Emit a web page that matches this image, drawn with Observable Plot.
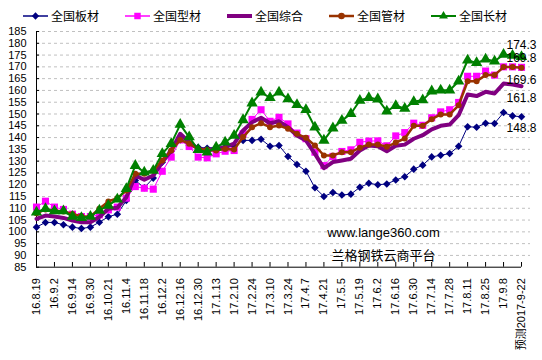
<!DOCTYPE html>
<html><head><meta charset="utf-8">
<script src="https://cdn.jsdelivr.net/npm/d3@7"></script>
<script src="https://cdn.jsdelivr.net/npm/@observablehq/plot@0.6"></script>
<style>
body{margin:0;background:#fff;}
#legend{position:relative;height:24px;width:542px;}
.item{position:absolute;top:10px;height:12px;line-height:12px;display:flex;align-items:center;font-size:12px;font-family:"Noto Sans CJK SC","Noto Sans",sans-serif;color:#000;white-space:nowrap;}
.item span{line-height:12px;height:12px;display:block;}
.item svg{margin-right:3px;display:block;}
</style></head><body>
<div id="legend"></div>
<div id="chart"></div>
<script>
// x tick labels (every second weekly point; last one is the forecast)
const xLabels = ["16.8.19","16.9.2","16.9.14","16.9.30","16.10.21","16.11.4","16.11.18","16.12.2","16.12.16","16.12.30","17.1.13","17.2.10","17.2.24","17.3.10","17.3.24","17.4.7","17.4.21","17.5.5","17.5.19","17.6.2","17.6.16","17.6.30","17.7.14","17.7.28","17.8.11","17.8.25","17.9.8","预测2017-9-22"];
const yTicks = [85,90,95,100,105,110,115,120,125,130,135,140,145,150,155,160,165,170,175,180,185];

const seriesNames = ["全国板材","全国型材","全国综合","全国管材","全国长材"];
const plate = [102,104,104,103,102,101.4,102,104.1,106.4,107.5,
  113.3,121.8,118.7,122.8,129.5,134.2,139,136.5,135.9,135.5,
  135.9,135.9,136.5,138.8,138.8,139.3,136.3,136.6,132.0,128.6,
  125.7,118.7,115.0,116.7,115.6,116.0,118.9,120.6,120.0,120.3,
  122.0,123.4,126.6,128.3,131.8,132.5,133.2,136.3,144.6,144.4,
  146.1,146.0,150.6,149.2,148.8];
const section = [110.5,113.0,110.5,109.5,107.5,106.5,106.5,107.2,109.3,110.5,
  114.3,119.2,118.5,118.1,125.7,131.7,139.0,136.2,131.7,131.4,
  133.1,134.2,134.5,141.6,147.7,151.8,146.9,148.6,145.8,141.9,
  139.5,133.8,128.1,132.0,134.1,134.8,138.0,138.5,138.6,136.5,
  140.7,142.1,146.1,145.2,148.4,150.9,151.8,154.9,166.0,166.0,
  168.2,166.5,170.0,170.0,169.8];
const composite = [105.5,106.9,106.5,105.9,104.8,104.1,104.1,106.3,109.8,110.2,
  114.7,123.9,122.1,123.9,129.5,134.5,141.6,138.0,135.2,134.5,
  135.2,135.9,137.4,143.0,146.5,148.4,146.1,146.9,144.4,140.9,
  138.8,133.1,127.0,129.6,130.3,131.0,134.5,136.6,136.3,134.2,
  136.5,137.0,139.5,141.0,143.5,145.0,145.5,149.5,158.3,157.6,
  159.4,158.7,162.9,162.5,161.8];
const pipe = [107.9,109.5,109.1,108.6,107.6,106.6,106.5,109.8,112.9,114.3,
  117.5,124.6,124.6,126.0,130.3,134.5,139.0,137.4,135.2,134.8,
  134.5,135.2,134.9,140.2,144.4,146.1,144.4,145.1,143.7,141.6,
  139.9,136.6,132.4,132.4,133.8,133.8,135.7,137.1,137.1,136.1,
  137.9,139.6,145.0,145.0,147.8,149.8,149.8,153.7,163.9,163.9,
  166.5,166.5,169.9,169.9,169.6];
const longp = [108.3,109.8,108.8,108.8,106.5,106.0,106.5,109.1,111.2,113.8,
  118.3,128.1,125.3,126.0,133.1,137.4,145.5,140.2,134.8,133.8,
  135.9,138.0,140.9,147.5,154.6,159.2,156.9,159.2,156.4,153.9,
  151.8,144.4,138.8,144.0,147.2,150.1,155.7,156.9,156.3,151.2,
  153.5,152.3,155.2,155.9,159.7,160.1,160.1,163.9,172.8,171.7,
  173.2,172.4,175.2,174.8,174.3];

const styles = [
  {name: seriesNames[0], values: plate,     color: "#000080", width: 1,   symbol: "diamond2", r: 3.4, labelDy: 11},
  {name: seriesNames[1], values: section,   color: "#FF00FF", width: 1,   symbol: "square",   r: 4,   labelDy: -9},
  {name: seriesNames[2], values: composite, color: "#800080", width: 4,   symbol: null,       r: 0,   labelDy: 12},
  {name: seriesNames[3], values: pipe,      color: "#993300", width: 2.5, symbol: "circle",   r: 3,   labelDy: 12},
  {name: seriesNames[4], values: longp,     color: "#008000", width: 2,   symbol: "triangle", r: 4.2, labelDy: -12}
];

// legend
const legend = document.getElementById("legend");
const symPath = (sym) => {
  const map = {diamond2: d3.symbolDiamond2, square: d3.symbolSquare, circle: d3.symbolCircle, triangle: d3.symbolTriangle};
  return d3.symbol(map[sym], sym === "square" ? 42 : 34)();
};
styles.forEach((s, k) => {
  const div = document.createElement("div");
  div.className = "item";
  div.style.left = (23 + 102 * k) + "px";
  const lw = Math.max(s.width, 1.5);
  div.innerHTML = `<svg width="25" height="12" viewBox="0 0 25 12"><line x1="0" x2="25" y1="6" y2="6" stroke="${s.color}" stroke-width="${lw}"/>` +
    (s.symbol ? `<path transform="translate(12.5,6)" d="${symPath(s.symbol)}" fill="${s.color}"/>` : "") +
    `</svg><span>${s.name}</span>`;
  legend.appendChild(div);
});

const tickIdx = xLabels.map((d, k) => k * 2);
const font = "'Liberation Sans', Arial, 'Noto Sans CJK SC', sans-serif";

const marks = [
  Plot.ruleY(yTicks.slice(1), {stroke: "#c0c0c0", strokeDasharray: "3,3"}),
  Plot.ruleX(tickIdx, {stroke: "#000", insetTop: 231}),
  Plot.ruleY(yTicks, {x1: 0, x2: 0.35, stroke: "#000"}),
  Plot.ruleY([85], {x1: 0, x2: 54, stroke: "#000"}),
  Plot.ruleX([0], {y1: 85, y2: 185, stroke: "#000"}),
  Plot.axisY({ticks: yTicks, tickSize: 0, tickPadding: 10, fontSize: 11, label: null, tickFormat: d => d}),
  Plot.axisX({ticks: tickIdx, tickSize: 0, tickPadding: 11, tickRotate: -90, fontSize: 11, label: null, tickFormat: i => xLabels[i / 2]}),
  Plot.text(["www.lange360.com"], {frameAnchor: "bottom", lineAnchor: "middle", dx: 100, dy: -34, fontSize: 13, fill: "#000"}),
  Plot.text(["兰格钢铁云商平台"], {frameAnchor: "bottom", lineAnchor: "middle", dx: 100, dy: -11, fontSize: 13, fill: "#000", fontFamily: "'Noto Sans CJK SC', sans-serif"})
];
styles.forEach(s => {
  const rows = s.values.map((v, i) => ({i, v}));
  marks.push(Plot.line(rows, {x: "i", y: "v", stroke: s.color, strokeWidth: s.width, strokeLinejoin: "round"}));
  if (s.symbol) marks.push(Plot.dot(rows, {x: "i", y: "v", symbol: s.symbol, fill: s.color, r: s.r, stroke: "none"}));
});
styles.forEach(s => {
  const n = s.values.length - 1;
  marks.push(Plot.text([{i: n, v: s.values[n]}], {x: "i", y: "v", text: d => d.v.toFixed(1), dy: s.labelDy, fontSize: 12, fill: "#000"}));
});

const chart = Plot.plot({
  width: 542, height: 336,
  marginLeft: 36, marginRight: 12, marginTop: 7, marginBottom: 93.3,
  x: {domain: [0, 55], label: null},
  y: {domain: [85, 185], label: null},
  style: {fontFamily: font, fontSize: "11px", color: "#000", background: "#fff", overflow: "visible"},
  marks
});
document.getElementById("chart").appendChild(chart);
</script>
</body></html>
